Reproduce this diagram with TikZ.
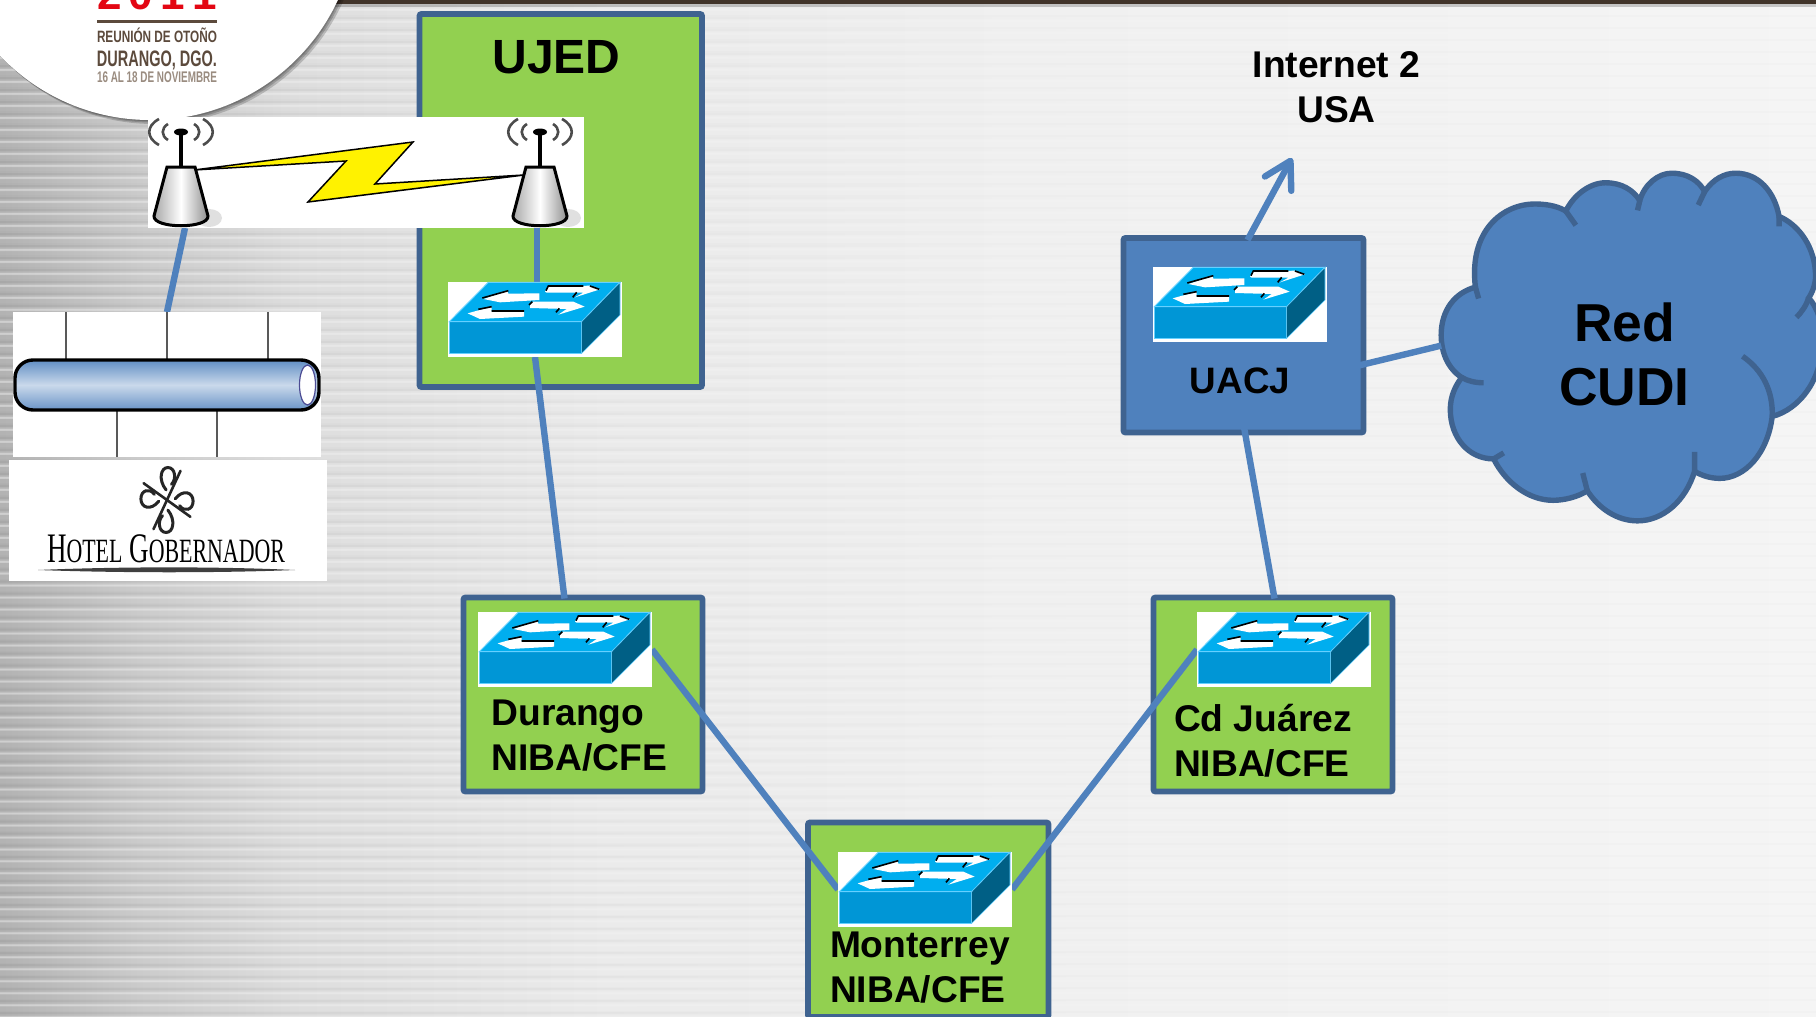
\documentclass[tikz,border=0pt]{standalone}
\usepackage{fontspec}
\usepackage{graphicx}
\setmainfont{Liberation Sans}
\newfontfamily\hotelserif{Liberation Serif}
\usetikzlibrary{calc,arrows.meta,fadings}
\definecolor{linkblue}{HTML}{4F81BD}
\definecolor{edgeblue}{HTML}{3F6390}
\definecolor{boxgreen}{HTML}{92D050}
\definecolor{swtop}{HTML}{00AEEF}
\definecolor{swfront}{HTML}{0096D6}
\definecolor{swside}{HTML}{005F85}
\definecolor{swline}{HTML}{66D0FF}
\definecolor{logobrown}{HTML}{5C4A3C}
\definecolor{logogray}{HTML}{9A8C80}
\definecolor{logored}{HTML}{E30613}
\pgfdeclarehorizontalshading{pagebg}{100bp}{
 color(0bp)=(black!30); color(25bp)=(black!30); color(29bp)=(black!20); color(33.3bp)=(black!13);
 color(41.5bp)=(black!8); color(52.5bp)=(black!6); color(75bp)=(black!4); color(100bp)=(black!4)}
\tikzfading[name=stripefade,left color=transparent!0,right color=transparent!100]
\pgfdeclarelayer{front}
\pgfsetlayers{main,front}
\tikzset{
 link/.style={draw=linkblue,line width=3.2pt},
 netbox/.style={draw=edgeblue,line width=2.9pt,rounded corners=1pt,inner sep=0pt,outer sep=0pt},
 whitebox/.style={fill=white,draw=none,inner sep=0pt,outer sep=0pt},
 lab/.style={inner sep=0pt,outer sep=0pt,text=black,font=\bfseries\fontsize{18.6}{22.2}\selectfont,align=left},
 logotxt/.style={inner sep=0pt,outer sep=0pt,anchor=base west},
 antbody/.style={draw=black,line width=1.5pt,left color=black!35,right color=black!45,middle color=white},
 wave/.style={draw=black!70,line width=1.3pt},
}
\newcommand\pxbox[6]{\node[#6,minimum width={(#4-#2)*0.5pt},minimum height={(#5-#3)*0.5pt}] (#1) at ({(#2+#4)/2},{(#3+#5)/2}) {};}
\newcommand\swnode[3]{%
 \node[whitebox,anchor=north west,minimum width=87pt,minimum height=37.5pt] (#1) at (#2,#3) {};
 \begin{scope}[shift={(#1.north west)},scale=1/3,shift={(-84,-96)}]
  \filldraw[fill=swfront,draw=swline,line width=.5pt] (88,215)--(485,215)--(485,310)--(88,310)--cycle;
  \filldraw[fill=swtop,draw=swline,line width=.5pt] (88,215)--(205,97)--(600,97)--(485,215)--cycle;
  \filldraw[fill=swside,draw=swline,line width=.3pt] (485,215)--(600,97)--(600,195)--(485,310)--cycle;
  \fill[white] (358,130)--(358,150)--(240,157)--(190,147)--(262,122)--(265,131)--cycle;
  \fill[white] (375,125)--(385,110)--(510,107)--(540,118)--(465,142)--(490,128)--(380,128)--cycle;
  \fill[white] (330,160)--(340,155)--(460,155)--(494,170)--(415,194)--(440,177)--(330,174)--cycle;
  \fill[white] (312,186)--(312,200)--(180,207)--(143,190)--(215,170)--(215,184)--cycle;
  \draw[black,line width=.8pt] (187,144)--(265,122) (378,122)--(385,108)--(490,108) (458,142)--(470,127) (510,108)--(538,118)
    (327,165)--(337,155) (408,187)--(418,175) (175,178)--(215,170) (215,183)--(312,183);
 \end{scope}}
\newcommand\antenna[1]{%
 \fill[black!12] (#1+28,218) ellipse (13 and 9);
 \draw[black,line width=2pt] (#1,132)--(#1,168);
 \fill[black] (#1,132) ellipse (7 and 3.5);
 \draw[antbody] (#1-14,167)--(#1+14,167)--(#1+27,216) .. controls (#1+28,229) and (#1-28,229) .. (#1-27,216)--cycle;
 \draw[wave] (#1-22,119) .. controls (#1-35,126) and (#1-35,138) .. (#1-22,145)
             (#1-13,124) .. controls (#1-20,128) and (#1-20,136) .. (#1-13,140)
             (#1+22,119) .. controls (#1+35,126) and (#1+35,138) .. (#1+22,145)
             (#1+13,124) .. controls (#1+20,128) and (#1+20,136) .. (#1+13,140);}
\begin{document}
\begin{tikzpicture}[x=0.5pt,y=-0.5pt]
\useasboundingbox (0,0) rectangle (1816,1017);
\clip (0,0) rectangle (1816,1017);
% page background
\shade[shading=pagebg] (0,0) rectangle (1816,1017);
\foreach \s in {4,16,...,1016}{
 \draw[black,opacity=.012,line width=.9pt] (0,\s)--(1816,\s);
 \draw[white,opacity=.08,line width=1pt] (0,\s+5)--(1816,\s+5);}
\fill[black,opacity=.06,path fading=stripefade] foreach \s in {4,16,...,1016}{(0,\s) rectangle (1100,\s+2)};
\fill[white,opacity=.33,path fading=stripefade] foreach \s in {4,16,...,1016}{(0,\s+4) rectangle (1100,\s+6)};
\fill[black!50,opacity=.4] (0,3) rectangle (1816,7);
\fill[logobrown!70!black] (0,0) rectangle (1816,3.5);
% logo disc
\foreach \o in {4,2.5,1.2}{\fill[black,opacity=.18] (150+\o,-87+\o) circle (207);}
\fill[white] (150,-87) circle (207);
\node[logotxt,anchor=south west,text=logored] (year) at (97,10) {\resizebox{60pt}{15pt}{\bfseries 2\,0\,1\,1}};
\fill[logobrown] (97,19.5) rectangle (217,22.5);
\node[logotxt,text=logobrown] (reunion) at (97,42) {\resizebox{60pt}{\height}{\bfseries\fontsize{8.2}{9}\selectfont REUNIÓN DE OTOÑO}};
\node[logotxt,text=logobrown] (durango) at (97,66) {\resizebox{60pt}{\height}{\bfseries\fontsize{11.2}{12}\selectfont DURANGO, DGO.}};
\node[logotxt,text=logogray] (fechas) at (97,83) {\resizebox{60pt}{\height}{\bfseries\fontsize{7.7}{9}\selectfont 16 AL 18 DE NOVIEMBRE}};
% boxes
\pxbox{ujed}{419.5}{14}{702}{387}{netbox,fill=boxgreen}
\pxbox{durBox}{463.5}{597.5}{702.5}{791.5}{netbox,fill=boxgreen}
\pxbox{monBox}{808}{822.5}{1048.5}{1017}{netbox,fill=boxgreen}
\pxbox{juBox}{1153.5}{597.5}{1392.5}{791.5}{netbox,fill=boxgreen}
\pxbox{uacj}{1123.5}{238}{1363.5}{432.5}{netbox,fill=linkblue}
% cloud
\begin{scope}[shift={(1101,4)},xscale=0.4566,yscale=0.354]
\filldraw[fill=linkblue,draw=edgeblue,line width=2.7pt]
 (820,800) .. controls (805,640) and (880,565) .. (950,565)
 .. controls (985,565) and (1005,575) .. (1018,585)
 .. controls (1035,540) and (1070,505) .. (1105,505)
 .. controls (1140,505) and (1165,525) .. (1180,555)
 .. controls (1190,510) and (1220,478) .. (1250,478)
 .. controls (1285,478) and (1310,500) .. (1322,530)
 .. controls (1340,495) and (1365,478) .. (1390,478)
 .. controls (1440,478) and (1475,530) .. (1485,600)
 .. controls (1530,625) and (1565,690) .. (1565,770)
 .. controls (1565,790) and (1558,815) .. (1550,830)
 .. controls (1570,860) and (1580,900) .. (1580,950)
 .. controls (1580,1060) and (1530,1145) .. (1470,1165)
 .. controls (1460,1270) and (1410,1340) .. (1355,1340)
 .. controls (1335,1340) and (1315,1332) .. (1300,1320)
 .. controls (1280,1405) and (1230,1460) .. (1175,1460)
 .. controls (1130,1460) and (1090,1425) .. (1065,1375)
 .. controls (1045,1392) and (1015,1402) .. (990,1402)
 .. controls (935,1402) and (885,1350) .. (860,1285)
 .. controls (805,1285) and (765,1225) .. (765,1145)
 .. controls (765,1110) and (775,1080) .. (790,1055)
 .. controls (760,1030) and (745,985) .. (745,935)
 .. controls (745,865) and (775,815) .. (820,800) -- cycle;
\draw[edgeblue,line width=2.7pt]
 (820,800)--(827,832) (1018,585)--(1040,625) (1180,555)--(1175,583) (1322,530)--(1308,568)
 (1485,600)--(1485,628) (1550,830) .. controls (1545,850) and (1535,870) .. (1523,885)
 (1405,995) .. controls (1450,1035) and (1472,1095) .. (1470,1165)
 (1300,1265)--(1300,1320) (1055,1325)--(1065,1375) (860,1285)--(882,1268)
 (790,1055) .. controls (803,1065) and (820,1070) .. (838,1070);
\coordinate (cloudW) at (745,965);
\end{scope}
\begin{pgfonlayer}{front}
% radio link picture
\pxbox{radio}{148}{117}{584}{228}{whitebox}
\filldraw[fill=yellow,draw=black,line width=.75pt,line join=miter] (194,170)--(413,142)--(375,184)--(524,175)--(308,202)--(346,161)--cycle;
\antenna{181}
\antenna{540}
% bus picture
\pxbox{bus}{13}{312}{321}{457}{whitebox}
\draw[black!65,line width=1pt] (66,312)--(66,360) (167,312)--(167,360) (268,312)--(268,360) (117,410)--(117,457) (217,410)--(217,457);
\draw[black,line width=1.7pt,rounded corners=9pt,top color=linkblue!90,bottom color=linkblue!85,middle color=linkblue!30] (15,360) rectangle (319,410);
\filldraw[fill=white,draw=blue!40!black!70,line width=.6pt] (307.5,385) ellipse (8 and 20);
% hotel picture
\pxbox{hotel}{9}{460}{327}{581}{whitebox}
\foreach \a in {0,90,180,270}{
 \begin{scope}[shift={(167,500)},xscale=.9,yscale=1.12,rotate=\a]
 \draw[black!85,line width=1.3pt,line cap=round] (0,0)--(15,-26);
 \draw[black!85,line width=1.5pt,line cap=round] (-1,-9) .. controls (-10,-18) and (-7,-29) .. (1,-29) .. controls (9,-29) and (11,-19) .. (5,-14);
 \end{scope}}
\node[logotxt] (hotelname) at (47,562) {\resizebox{119pt}{\height}{\hotelserif\fontsize{21}{22}\selectfont H{\fontsize{17}{22}\selectfont OTEL} G{\fontsize{17}{22}\selectfont OBERNADOR}}};
\fill[black!75] (38,570) .. controls (120,566.5) and (220,566.5) .. (295,570) .. controls (220,573) and (120,573) .. (38,570) -- cycle;
% switches
\swnode{swU}{448}{282}
\swnode{swD}{478}{612}
\swnode{swJ}{1197}{612}
\swnode{swM}{838}{852}
\swnode{swA}{1153}{267}
% labels
\node[inner sep=0pt,font=\bfseries\fontsize{24}{26}\selectfont] (ujedT) at (556.5,57) {UJED};
\node[lab,anchor=base west] (durT) at (491.5,770) {Durango\\NIBA/CFE};
\node[lab,anchor=base west] (juT) at (1174,776) {Cd Juárez\\NIBA/CFE};
\node[lab,anchor=base west] (monT) at (830,1002) {Monterrey\\NIBA/CFE};
\node[lab,font=\bfseries\fontsize{18.4}{22}\selectfont] (uacjT) at (1240,381) {UACJ};
\node[lab,align=center] (inet) at (1336.5,87) {Internet 2\\USA};
\node[lab,align=center,font=\bfseries\fontsize{26.7}{32}\selectfont] (cudi) at (1624.5,354) {Red\\CUDI};
\end{pgfonlayer}
% connectors
\coordinate (i2tip) at (1292,158);
\draw[link] ($(radio.south west)+(37,0)$) -- (bus.north);
\draw[link] ($(radio.south west)+(389,0)$) -- ($(swU.north west)+(89,0)$);
\draw[link] ($(swU.south west)+(87,0)$) -- ($(durBox.north west)+(101,1)$);
\draw[link] (swD.east) -- (swM.west);
\draw[link] (swM.east) -- (swJ.west);
\draw[link] ($(juBox.north west)+(121,1)$) -- ($(swA.south west)+(78,12)$);
\draw[link] ($(uacj.east)+(-12,32)$) -- (cloudW);
\draw[link,-{Straight Barb[length=13pt,width=15pt,round]}] ($(uacj.north)+(4,2)$) -- (i2tip);
\end{tikzpicture}
\end{document}
